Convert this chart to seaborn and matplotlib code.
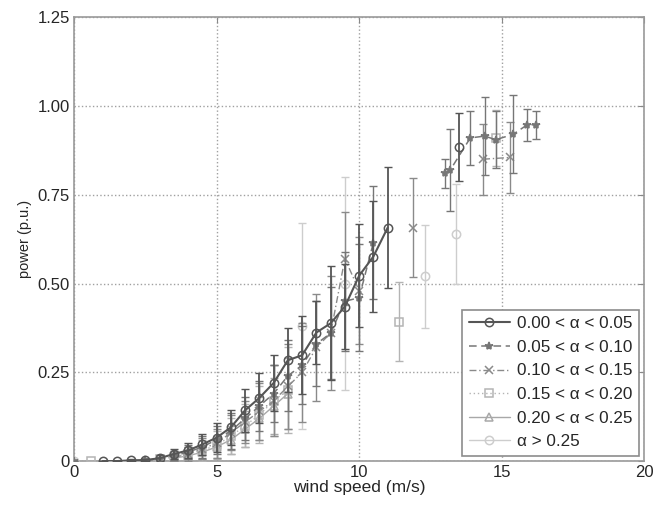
import seaborn as sns
import matplotlib.pyplot as plt
import numpy as np
import pandas as pd
from matplotlib.lines import Line2D

# series (wind speed bin, mean power, std)
labels = ['0.00 < α < 0.05', '0.05 < α < 0.10', '0.10 < α < 0.15',
          '0.15 < α < 0.20', '0.20 < α < 0.25', 'α > 0.25']

x1 = [1.0, 1.5, 2.0, 2.5, 3.0, 3.5, 4.0, 4.5, 5.0, 5.5, 6.0, 6.5, 7.0, 7.5, 8.0,
      8.5, 9.0, 9.5, 10.0, 10.5, 11.0, 13.5]
y1 = [0.0, 0.0, 0.002, 0.003, 0.008, 0.02, 0.03, 0.047, 0.066, 0.095, 0.143, 0.178,
      0.22, 0.284, 0.298, 0.362, 0.388, 0.435, 0.522, 0.576, 0.657, 0.885]
e1 = [0.0, 0.0, 0.003, 0.004, 0.01, 0.015, 0.02, 0.03, 0.04, 0.05, 0.06, 0.07,
      0.08, 0.09, 0.11, 0.09, 0.16, 0.12, 0.145, 0.155, 0.17, 0.095]

x2 = [0.0, 2.5, 3.0, 3.5, 4.0, 4.5, 5.0, 5.5, 6.0, 6.5, 7.0, 7.5, 8.0, 8.5, 9.0,
      9.5, 10.0, 10.5, 13.0, 13.2, 13.9, 14.4, 14.8, 15.4, 15.9, 16.2]
y2 = [0.0, 0.002, 0.006, 0.015, 0.025, 0.04, 0.06, 0.085, 0.12, 0.155, 0.19, 0.24,
      0.27, 0.33, 0.36, 0.45, 0.46, 0.615, 0.81, 0.82, 0.91, 0.915, 0.905, 0.92,
      0.947, 0.947]
e2 = [0.0, 0.003, 0.006, 0.012, 0.02, 0.03, 0.04, 0.05, 0.06, 0.07, 0.08, 0.1,
      0.11, 0.12, 0.13, 0.14, 0.15, 0.16, 0.04, 0.115, 0.075, 0.11, 0.08, 0.11,
      0.045, 0.04]

x3 = [3.5, 4.0, 4.5, 5.0, 5.5, 6.0, 6.5, 7.0, 7.5, 8.0, 8.5, 9.0, 9.5, 10.0,
      11.9, 14.35, 15.3]
y3 = [0.01, 0.02, 0.035, 0.05, 0.08, 0.11, 0.14, 0.17, 0.21, 0.25, 0.32, 0.36,
      0.57, 0.48, 0.657, 0.85, 0.855]
e3 = [0.01, 0.02, 0.03, 0.04, 0.05, 0.06, 0.08, 0.1, 0.12, 0.14, 0.15, 0.16,
      0.13, 0.15, 0.14, 0.1, 0.1]

x4 = [0.6, 3.0, 3.5, 4.0, 4.5, 5.0, 5.5, 6.0, 6.5, 7.0, 7.5, 11.4, 14.8]
y4 = [0.0, 0.005, 0.012, 0.02, 0.03, 0.045, 0.07, 0.1, 0.13, 0.17, 0.2, 0.393, 0.91]
e4 = [0.0, 0.005, 0.01, 0.02, 0.03, 0.04, 0.05, 0.06, 0.08, 0.1, 0.12, 0.11, 0.08]

x5 = [3.5, 4.0, 4.5, 5.0, 5.5, 6.0, 6.5, 7.0, 7.5]
y5 = [0.008, 0.015, 0.025, 0.04, 0.06, 0.09, 0.12, 0.155, 0.19]
e5 = [0.01, 0.015, 0.02, 0.03, 0.04, 0.05, 0.06, 0.08, 0.1]

x6 = [0.0, 8.0, 9.5, 12.3, 13.4]
y6 = [0.0, 0.38, 0.5, 0.52, 0.64]
e6 = [0.0, 0.29, 0.3, 0.145, 0.14]

colors = ['#555555', '#767676', '#8a8a8a', '#b4b4b4', '#a8a8a8', '#cdcdcd']
markers = ['o', '*', 'x', 's', '^', 'o']
faces = ['none', '#767676', 'none', 'none', 'none', 'none']
styles = ['-', (0, (5, 3)), (0, (5, 2, 1, 2)), (0, (1, 2)), '-', '-']
widths = [1.5, 1.1, 1.0, 1.0, 1.0, 1.0]

xs = [x1, x2, x3, x4, x5, x6]
ys = [y1, y2, y3, y4, y5, y6]
es = [e1, e2, e3, e4, e5, e6]

frames = []
for lab, x, y, e in zip(labels, xs, ys, es):
    x = np.array(x)
    seg = np.concatenate([[0], np.cumsum(np.diff(x) > 1.0)])
    frames.append(pd.DataFrame({'wind': x, 'power': y, 'err': e,
                                'series': lab, 'seg': seg}))
df = pd.concat(frames, ignore_index=True)

sns.set_style('white')
plt.rcParams['font.family'] = ['Liberation Sans', 'DejaVu Sans']

fig = plt.figure(figsize=(6.62, 5.05), dpi=100)
ax = fig.add_axes([0.112, 0.087, 0.861, 0.879])

# draw lightest series first so the dark one ends up on top
for k in range(len(labels) - 1, -1, -1):
    d = df[df['series'] == labels[k]]
    z = 2 + 2 * (len(labels) - k)
    ax.errorbar(d['wind'], d['power'], yerr=d['err'], fmt='none',
                ecolor=colors[k], elinewidth=1.3 if k == 0 else 1.0,
                capsize=3, capthick=1.0, zorder=z)
    sns.lineplot(data=d, x='wind', y='power', units='seg', estimator=None,
                 sort=False, color=colors[k], marker=markers[k],
                 linestyle=styles[k], linewidth=widths[k],
                 markerfacecolor=faces[k], markeredgecolor=colors[k],
                 markersize=6, markeredgewidth=1.1, ax=ax, zorder=z + 1)

ax.set_xlim(0, 20)
ax.set_ylim(0, 1.25)
ax.set_xticks([0, 5, 10, 15, 20])
ax.set_yticks([0, 0.25, 0.5, 0.75, 1.0, 1.25])
ax.set_yticklabels(['0', '0.25', '0.50', '0.75', '1.00', '1.25'])
ax.grid(True, linestyle=':', color='#a0a0a0', linewidth=1.0)
ax.tick_params(direction='in', length=4, color='#888888', labelsize=12,
               top=True, right=True, pad=3)
for sp in ax.spines.values():
    sp.set_color('#999999')
    sp.set_linewidth(1.2)
ax.set_xlabel('wind speed (m/s)', fontsize=12.5, labelpad=0)
ax.set_ylabel('power (p.u.)', fontsize=10.5, labelpad=4)

handles = [Line2D([], [], color=c, marker=m, linestyle=s, linewidth=w,
                  markerfacecolor=f, markersize=6, markeredgewidth=1.1)
           for c, m, s, w, f in zip(colors, markers, styles, widths, faces)]
leg = ax.legend(handles, labels, loc='lower right', fontsize=12.3,
                handlelength=2.4, handletextpad=0.4, labelspacing=0.5,
                borderaxespad=0.3, fancybox=False, framealpha=1,
                edgecolor='#8c8c8c', numpoints=1)
leg.get_frame().set_linewidth(1.2)
leg.set_zorder(20)

fig.savefig('out.png', dpi=100)
